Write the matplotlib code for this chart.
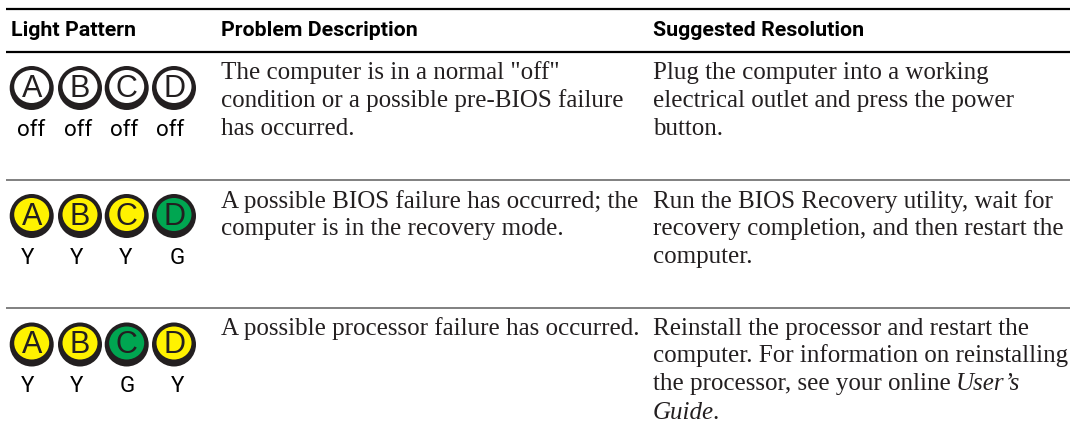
import matplotlib
matplotlib.use('Agg')
import matplotlib.pyplot as plt
from matplotlib.patches import Circle, Ellipse

headers = ['Light Pattern', 'Problem Description', 'Suggested Resolution']
letters = ['A', 'B', 'C', 'D']
row_states = [['off', 'off', 'off', 'off'], ['Y', 'Y', 'Y', 'G'], ['Y', 'Y', 'G', 'Y']]
problems = [
    ['The computer is in a normal "off"', 'condition or a possible pre-BIOS failure', 'has occurred.'],
    ['A possible BIOS failure has occurred; the', 'computer is in the recovery mode.'],
    ['A possible processor failure has occurred.'],
]
resolutions = [
    ['Plug the computer into a working', 'electrical outlet and press the power', 'button.'],
    ['Run the BIOS Recovery utility, wait for', 'recovery completion, and then restart the', 'computer.'],
    ['Reinstall the processor and restart the', 'computer. For information on reinstalling', 'the processor, see your online'],
]

FILL = {'off': 'white', 'Y': '#fff200', 'G': '#00a651'}
DARK = '#231f20'
SANS = ['Roboto', 'DejaVu Sans']
SERIF = 'Liberation Serif'
BODY = 18

fig = plt.figure(figsize=(10.75, 4.27), dpi=100)
ax = fig.add_axes([0, 0, 1, 1])
ax.set_xlim(0, 1075)
ax.set_ylim(427, 0)
ax.axis('off')

# rules
ax.plot([6, 1070], [10, 10], color='black', lw=1.6, solid_capstyle='butt')
ax.plot([6, 1070], [52.5, 52.5], color='black', lw=1.6, solid_capstyle='butt')
ax.plot([6, 1070], [181, 181], color='#808080', lw=1.4, solid_capstyle='butt')
ax.plot([6, 1070], [308.5, 308.5], color='#808080', lw=1.4, solid_capstyle='butt')

for x, h in zip([11, 221, 653], headers):
    ax.text(x, 36.5, h, family=SANS, weight='bold', fontsize=15.4, va='baseline', ha='left', color='black')

light_x = [31.7, 80, 126.7, 174]
row_y = [89, 217, 345.5]
label_x = [[31, 78, 124, 170], [28, 77, 126, 177], [28, 77, 127, 178]]
line_y = [[79, 106.5, 135], [208, 235, 263], [335, 362.5, 390.5]]

for r, states in enumerate(row_states):
    for i, s in enumerate(states):
        cx, cy = light_x[i], row_y[r]
        ax.add_patch(Circle((cx, cy), 22, fc=DARK, ec='none'))
        ax.add_patch(Ellipse((cx, cy - 1.5), 35, 33, fc=FILL[s], ec='none'))
        ax.text(cx, cy + 7.7, letters[i], family='Liberation Sans', fontsize=22, color=DARK,
                ha='center', va='baseline')
        ax.text(label_x[r][i], row_y[r] + 47, s, family=SANS, fontsize=16, color='black',
                ha='center', va='baseline')
    for j, line in enumerate(problems[r]):
        ax.text(221, line_y[r][j], line, family=SERIF, fontsize=BODY, va='baseline', color=DARK)
    for j, line in enumerate(resolutions[r]):
        t = ax.text(653, line_y[r][j], line, family=SERIF, fontsize=BODY, va='baseline', color=DARK)

# italic part of the last cell
fig.canvas.draw()
x_end = ax.transData.inverted().transform(t.get_window_extent().corners()[-1])[0]
ax.text(x_end + 5, line_y[2][2], "User\u2019s", family=SERIF, style='italic', fontsize=BODY, va='baseline', color=DARK)
g = ax.text(653, 419, 'Guide', family=SERIF, style='italic', fontsize=BODY, va='baseline', color=DARK)
fig.canvas.draw()
x_end = ax.transData.inverted().transform(g.get_window_extent().corners()[-1])[0]
ax.text(x_end - 2, 419, '.', family=SERIF, fontsize=BODY, va='baseline', color=DARK)

fig.savefig('out.png', dpi=100)
